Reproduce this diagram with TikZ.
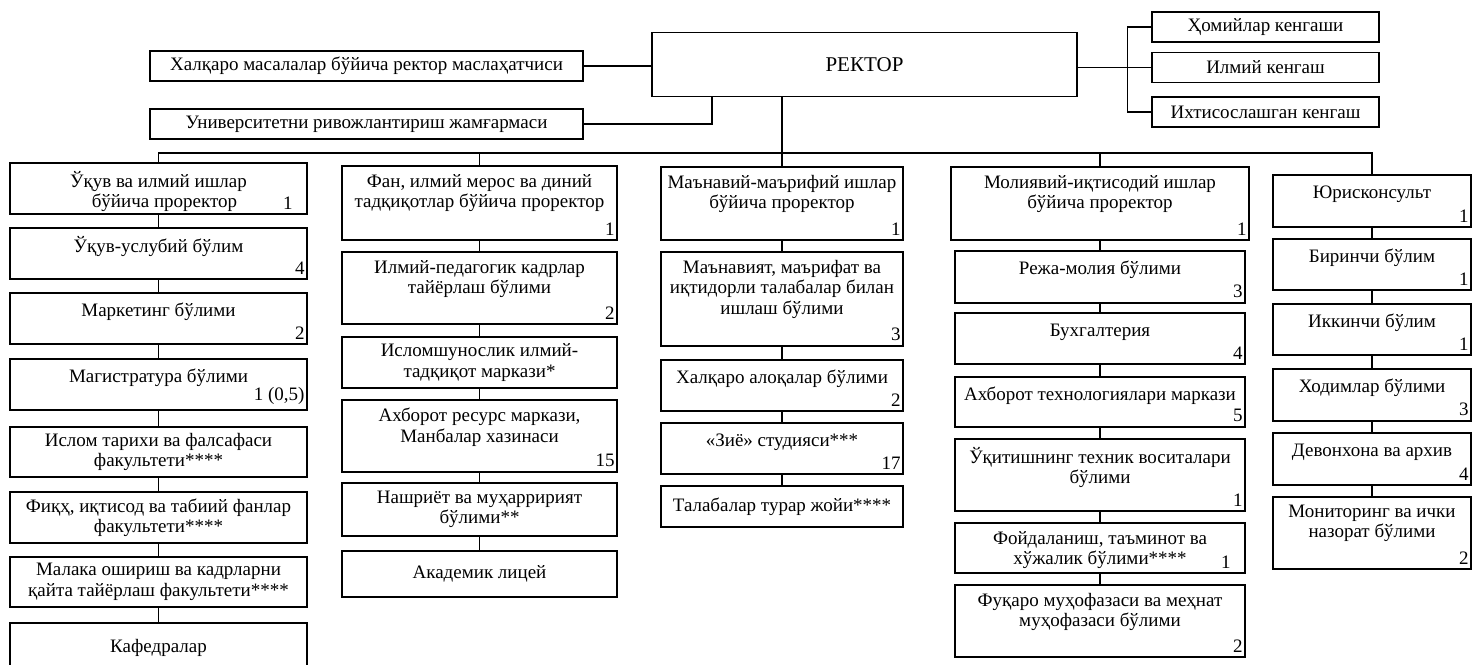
\documentclass[tikz,border=0pt]{standalone}
\usepackage{fontspec}
\setmainfont{Liberation Serif}
\newcommand{\boxfont}{\fontsize{19}{20.5}\selectfont}
\begin{document}
\begin{tikzpicture}[x=1pt,y=-1pt,line width=1.2pt,
unit/.style={draw,rectangle,fill=white,inner sep=2pt,align=center,font=\boxfont},
col1/.style={unit,minimum width=297},
col2/.style={unit,minimum width=275},
col3/.style={unit,minimum width=242},
col4/.style={unit,minimum width=290},
col5/.style={unit,minimum width=198},
top/.style={unit,minimum width=433,minimum height=30},
council/.style={unit,minimum width=227,minimum height=30},
lbl/.style={anchor=north,align=center,inner sep=0pt,yshift=-8pt,font=\boxfont,
  execute at begin node={\rule{0pt}{15pt}}},
num/.style={anchor=south east,inner xsep=2.5pt,inner ysep=5pt,font=\boxfont}]
\useasboundingbox (0,0) rectangle (1472,664);
\draw (864.5,64.5) node[unit,minimum width=425,minimum height=64,font=\fontsize{21}{24}\selectfont] (rk) {РЕКТОР};
\draw (366.5,66) node[top] (hx) {Халқаро масалалар бўйича ректор маслаҳатчиси};
\draw (366.5,124) node[top] (uf) {Университетни ривожлантириш жамғармаси};
\draw (1265.5,27) node[council] (c1) {Ҳомийлар кенгаши};
\draw (1265.5,67.5) node[council] (c2) {Илмий кенгаш};
\draw (1265.5,112) node[council] (c3) {Ихтисослашган кенгаш};
\draw (hx.east) -- (hx.east -| rk.west);
\draw (uf.east) -| ([xshift=-152.5pt]rk.south);
\draw (rk.east |- c2.west) -- (c2.west);
\draw (c1.west) -- ++(-24,0) |- (c3.west);
\draw (158.5,188.5) node[col1,minimum height=51] (a1) {};
\node[lbl] (a1t) at (a1.north) {Ўқув ва илмий ишлар\\\hspace*{12pt}бўйича проректор};
\node[num,xshift=-12pt] (a1n) at (a1.south east) {1};
\draw (158.5,253.5) node[col1,minimum height=51] (a2) {};
\node[lbl] (a2t) at (a2.north) {Ўқув-услубий бўлим};
\node[num] (a2n) at (a2.south east) {4};
\draw (158.5,318.5) node[col1,minimum height=51] (a3) {};
\node[lbl] (a3t) at (a3.north) {Маркетинг бўлими};
\node[num] (a3n) at (a3.south east) {2};
\draw (158.5,384.5) node[col1,minimum height=51] (a4) {};
\node[lbl] (a4t) at (a4.north) {Магистратура бўлими};
\node[num] (a4n) at (a4.south east) {1 (0,5)};
\draw (158.5,452) node[col1,minimum height=50] (a5) {Ислом тарихи ва фалсафаси\\факультети****};
\draw (158.5,517.5) node[col1,minimum height=51] (a6) {Фиқҳ, иқтисод ва табиий фанлар\\факультети****};
\draw (158.5,582) node[col1,minimum height=50] (a7) {Малака ошириш ва кадрларни\\қайта тайёрлаш факультети****};
\draw (158.5,648) node[col1,minimum height=50] (a8) {Кафедралар};
\draw (479.5,203) node[col2,minimum height=74] (b1) {};
\node[lbl] (b1t) at (b1.north) {Фан, илмий мерос ва диний\\тадқиқотлар бўйича проректор};
\node[num] (b1n) at (b1.south east) {1};
\draw (479.5,288) node[col2,minimum height=72] (b2) {};
\node[lbl] (b2t) at (b2.north) {Илмий-педагогик кадрлар\\тайёрлаш бўлими};
\node[num] (b2n) at (b2.south east) {2};
\draw (479.5,362.5) node[col2,minimum height=51] (b3) {Исломшунослик илмий-\\тадқиқот маркази*};
\draw (479.5,436) node[col2,minimum height=72] (b4) {};
\node[lbl] (b4t) at (b4.north) {Ахборот ресурс маркази,\\Манбалар хазинаси};
\node[num] (b4n) at (b4.south east) {15};
\draw (479.5,509.5) node[col2,minimum height=53] (b5) {Нашриёт ва муҳарририят\\бўлими**};
\draw (479.5,574) node[col2,minimum height=46] (b6) {Академик лицей};
\draw (782,203.5) node[col3,minimum height=73] (d1) {};
\node[lbl] (d1t) at (d1.north) {Маънавий-маърифий ишлар\\бўйича проректор};
\node[num] (d1n) at (d1.south east) {1};
\draw (782,299) node[col3,minimum height=94] (d2) {};
\node[lbl] (d2t) at (d2.north) {Маънавият, маърифат ва\\иқтидорли талабалар билан\\ишлаш бўлими};
\node[num] (d2n) at (d2.south east) {3};
\draw (782,385.5) node[col3,minimum height=51] (d3) {};
\node[lbl] (d3t) at (d3.north) {Халқаро алоқалар бўлими};
\node[num] (d3n) at (d3.south east) {2};
\draw (782,448.5) node[col3,minimum height=51] (d4) {};
\node[lbl] (d4t) at (d4.north) {«Зиё» студияси***};
\node[num] (d4n) at (d4.south east) {17};
\draw (782,506.5) node[col3,minimum height=41] (d5) {Талабалар турар жойи****};
\draw (1100,203.5) node[col4,minimum width=298,minimum height=73] (e1) {};
\node[lbl] (e1t) at (e1.north) {Молиявий-иқтисодий ишлар\\бўйича проректор};
\node[num] (e1n) at (e1.south east) {1};
\draw (1100,277) node[col4,minimum height=52] (e2) {};
\node[lbl] (e2t) at (e2.north) {Режа-молия бўлими};
\node[num] (e2n) at (e2.south east) {3};
\draw (1100,338.5) node[col4,minimum height=51] (e3) {};
\node[lbl] (e3t) at (e3.north) {Бухгалтерия};
\node[num] (e3n) at (e3.south east) {4};
\draw (1100,402) node[col4,minimum height=50] (e4) {};
\node[lbl] (e4t) at (e4.north) {Ахборот технологиялари маркази};
\node[num] (e4n) at (e4.south east) {5};
\draw (1100,475) node[col4,minimum height=72] (e5) {};
\node[lbl] (e5t) at (e5.north) {Ўқитишнинг техник воситалари\\бўлими};
\node[num] (e5n) at (e5.south east) {1};
\draw (1100,548) node[col4,minimum height=50] (e6) {};
\node[lbl] (e6t) at (e6.north) {Фойдаланиш, таъминот ва\\хўжалик бўлими****};
\node[num,xshift=-12pt] (e6n) at (e6.south east) {1};
\draw (1100,621) node[col4,minimum height=72] (e7) {};
\node[lbl] (e7t) at (e7.north) {Фуқаро муҳофазаси ва меҳнат\\муҳофазаси бўлими};
\node[num] (e7n) at (e7.south east) {2};
\draw (1372,201) node[col5,minimum height=52] (f1) {};
\node[lbl] (f1t) at (f1.north) {Юрисконсульт};
\node[num] (f1n) at (f1.south east) {1};
\draw (1372,264.5) node[col5,minimum height=51] (f2) {};
\node[lbl] (f2t) at (f2.north) {Биринчи бўлим};
\node[num] (f2n) at (f2.south east) {1};
\draw (1372,329.5) node[col5,minimum height=51] (f3) {};
\node[lbl] (f3t) at (f3.north) {Иккинчи бўлим};
\node[num] (f3n) at (f3.south east) {1};
\draw (1372,395) node[col5,minimum height=52] (f4) {};
\node[lbl] (f4t) at (f4.north) {Ходимлар бўлими};
\node[num] (f4n) at (f4.south east) {3};
\draw (1372,459) node[col5,minimum height=52] (f5) {};
\node[lbl] (f5t) at (f5.north) {Девонхона ва архив};
\node[num] (f5n) at (f5.south east) {4};
\draw (1372,533) node[col5,minimum height=72] (f6) {};
\node[lbl] (f6t) at (f6.north) {Мониторинг ва ички\\назорат бўлими};
\node[num] (f6n) at (f6.south east) {2};
\coordinate (bus) at (0,153);
\draw (d1.north |- rk.south) -- (d1.north);
\draw (a1.north) -- (a1.north |- bus) -- (f1.north |- bus) -- (f1.north);
\draw (b1.north |- bus) -- (b1.north);
\draw (e1.north |- bus) -- (e1.north);
\draw (a1) -- (a2); \draw (a2) -- (a3); \draw (a3) -- (a4); \draw (a4) -- (a5);
\draw (a5) -- (a6); \draw (a6) -- (a7); \draw (a7) -- (a8);
\draw (b1) -- (b2); \draw (b2) -- (b3); \draw (b3) -- (b4); \draw (b4) -- (b5); \draw (b5) -- (b6);
\draw (d1) -- (d2); \draw (d2) -- (d3); \draw (d3) -- (d4); \draw (d4) -- (d5);
\draw (e1) -- (e2); \draw (e2) -- (e3); \draw (e3) -- (e4); \draw (e4) -- (e5); \draw (e5) -- (e6); \draw (e6) -- (e7);
\draw (f1) -- (f2); \draw (f2) -- (f3); \draw (f3) -- (f4); \draw (f4) -- (f5); \draw (f5) -- (f6);
\end{tikzpicture}
\end{document}
